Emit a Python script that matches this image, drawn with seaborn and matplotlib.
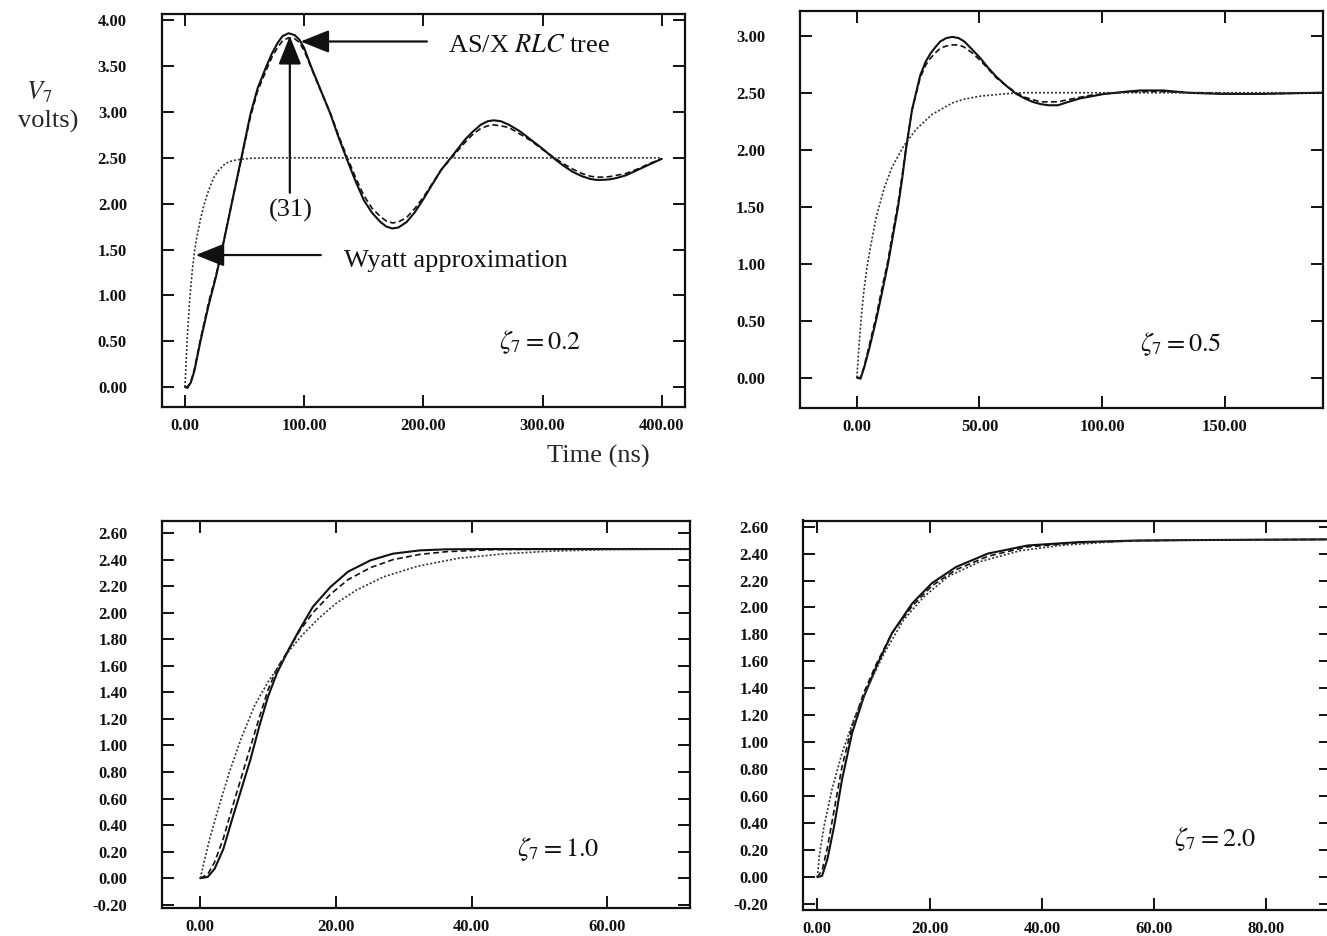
import numpy as np
import pandas as pd
import matplotlib
matplotlib.use('Agg')
import matplotlib.pyplot as plt
import seaborn as sns

# ============================================================================
# DATA
# ============================================================================

# zeta = 0.2, 0..400 ns
t1 = [0, 2, 5, 8, 13, 20, 26, 31, 40, 47, 55, 61, 68, 73, 78, 82, 87, 92, 96, 100,
      106, 112, 122, 129, 136, 143, 150, 157, 164, 169, 174, 179, 186, 193, 200, 207,
      215, 223, 235, 241, 248, 254, 259, 265, 272, 281, 290, 300, 309, 317, 325, 333,
      340, 345, 350, 356, 362, 370, 380, 390, 400]
exact1 = [0, -0.01, 0.05, 0.18, 0.5, 0.9, 1.2, 1.49, 2.05, 2.48, 2.98, 3.26, 3.49, 3.64,
          3.76, 3.83, 3.86, 3.84, 3.79, 3.70, 3.49, 3.30, 2.98, 2.72, 2.48, 2.25, 2.04,
          1.90, 1.80, 1.75, 1.73, 1.74, 1.80, 1.91, 2.05, 2.20, 2.37, 2.50, 2.70, 2.78,
          2.86, 2.90, 2.91, 2.90, 2.86, 2.79, 2.70, 2.60, 2.50, 2.42, 2.35, 2.30, 2.27,
          2.26, 2.26, 2.265, 2.28, 2.31, 2.37, 2.43, 2.49]
eq31_1 = [0, 0.0, 0.06, 0.2, 0.52, 0.93, 1.22, 1.50, 2.05, 2.47, 2.95, 3.23, 3.45, 3.60,
          3.71, 3.78, 3.81, 3.80, 3.76, 3.67, 3.48, 3.29, 2.99, 2.74, 2.51, 2.29, 2.09,
          1.95, 1.86, 1.81, 1.79, 1.80, 1.85, 1.95, 2.07, 2.21, 2.37, 2.49, 2.67, 2.75,
          2.82, 2.85, 2.86, 2.85, 2.83, 2.76, 2.69, 2.59, 2.51, 2.44, 2.38, 2.33, 2.30,
          2.29, 2.29, 2.295, 2.31, 2.33, 2.38, 2.44, 2.49]
tw1 = [0, 1, 2, 4, 6, 8, 10, 13, 16, 20, 24, 28, 34, 40, 47, 55, 70, 400]
wyatt1 = [0, 0.28, 0.55, 0.95, 1.25, 1.48, 1.64, 1.83, 1.99, 2.15, 2.28, 2.36, 2.44,
          2.47, 2.485, 2.495, 2.5, 2.5]

# zeta = 0.5
t2 = [0, 1.5, 3, 5, 7.8, 10, 12.7, 14.5, 16.8, 18.5, 20, 22.5, 25.8, 28, 29.9, 32, 34,
      36.5, 38.9, 41.5, 43.8, 47, 50.5, 53.5, 56.9, 61, 65, 68.5, 71.6, 75, 78.1, 82,
      86.3, 91, 96, 101, 106, 110, 115.7, 120, 125, 130, 135, 141, 148, 156, 165, 177, 190]
exact2 = [0, -0.01, 0.09, 0.25, 0.5, 0.72, 1.0, 1.22, 1.5, 1.75, 2.0, 2.35, 2.65, 2.77,
          2.84, 2.90, 2.95, 2.98, 2.99, 2.98, 2.95, 2.88, 2.80, 2.72, 2.64, 2.56, 2.49,
          2.45, 2.42, 2.40, 2.39, 2.39, 2.42, 2.45, 2.47, 2.49, 2.50, 2.51, 2.52, 2.52,
          2.52, 2.51, 2.50, 2.495, 2.49, 2.49, 2.49, 2.495, 2.50]
eq31_2 = [0, 0.0, 0.1, 0.28, 0.53, 0.76, 1.03, 1.26, 1.53, 1.78, 2.01, 2.35, 2.63, 2.74,
          2.80, 2.85, 2.89, 2.91, 2.92, 2.92, 2.90, 2.85, 2.78, 2.71, 2.63, 2.56, 2.50,
          2.46, 2.44, 2.42, 2.42, 2.42, 2.44, 2.46, 2.48, 2.49, 2.50, 2.505, 2.51, 2.51,
          2.51, 2.505, 2.50, 2.50, 2.495, 2.49, 2.49, 2.495, 2.50]
tw2 = [0, 0.6, 1.3, 2.1, 2.9, 4, 5.4, 7.8, 11.1, 14.4, 19.3, 24.2, 30.7, 38.9, 44, 50.3,
       60, 66.7, 80, 190]
wyatt2 = [0, 0.2, 0.4, 0.6, 0.77, 0.95, 1.13, 1.40, 1.66, 1.85, 2.04, 2.18, 2.31, 2.41,
          2.445, 2.47, 2.49, 2.50, 2.50, 2.50]

# zeta = 1.0
t3 = [0, 1.1, 2.1, 3.4, 4.7, 6.05, 7.4, 8.7, 10, 11.3, 13, 14.6, 16.6, 19.2, 21.8,
      25.1, 28.4, 32.4, 36.3, 43, 50, 72.2]
exact3 = [0, 0.01, 0.07, 0.22, 0.445, 0.67, 0.895, 1.145, 1.37, 1.545, 1.72, 1.87,
          2.045, 2.195, 2.31, 2.395, 2.445, 2.47, 2.478, 2.48, 2.48, 2.48]
eq31_3 = [0, 0.03, 0.12, 0.30, 0.53, 0.76, 0.99, 1.21, 1.42, 1.58, 1.72, 1.86, 2.0,
          2.14, 2.25, 2.34, 2.40, 2.44, 2.46, 2.475, 2.478, 2.48]
tw3 = [0, 1.4, 2.8, 4.3, 6.0, 8.0, 10.0, 12.0, 13.2, 15.0, 17.5, 20, 23, 27, 32, 38,
       45, 52, 60, 72.2]
wyatt3 = [0, 0.3, 0.55, 0.8, 1.05, 1.3, 1.48, 1.63, 1.72, 1.83, 1.96, 2.07, 2.17, 2.27,
          2.35, 2.41, 2.445, 2.465, 2.475, 2.48]

# zeta = 2.0
t4 = [0, 0.85, 1.8, 3, 4.4, 6.2, 8.3, 10.5, 13.3, 16.9, 20.4, 24.7, 30.4, 37.5, 46.7,
      57.4, 68, 91.5]
exact4 = [0, 0.01, 0.135, 0.38, 0.725, 1.07, 1.34, 1.56, 1.81, 2.03, 2.18, 2.30, 2.40,
          2.46, 2.485, 2.497, 2.50, 2.505]
eq31_4 = [0, 0.05, 0.22, 0.5, 0.82, 1.12, 1.37, 1.58, 1.81, 2.01, 2.16, 2.28, 2.38,
          2.45, 2.48, 2.495, 2.50, 2.505]
tw4 = [0, 0.36, 1.2, 2.6, 4.4, 6.5, 9, 11.9, 15.4, 19, 23.3, 29, 36, 43.2, 53.8, 65, 91.5]
wyatt4 = [0, 0.16, 0.38, 0.65, 0.92, 1.17, 1.41, 1.66, 1.91, 2.08, 2.23, 2.34, 2.42,
          2.46, 2.49, 2.50, 2.505]

zeta_labels = ['0.2', '0.5', '1.0', '2.0']

# ============================================================================
# STYLE
# ============================================================================

sns.set_theme(style='ticks')
plt.rcParams['font.family'] = ['Liberation Serif', 'DejaVu Serif']
plt.rcParams['mathtext.fontset'] = 'stix'

W, H = 1327, 936
fig = plt.figure(figsize=(W / 100, H / 100), dpi=100)
fig.patch.set_facecolor('white')


def box(left, top, right, bottom):
    # pixel box -> figure fraction rect
    return [left / W, 1 - bottom / H, (right - left) / W, (bottom - top) / H]


panels = [
    dict(rect=box(161.7, 14, 685, 406.7), xlim=(-19.5, 419.5), ylim=(-0.215, 4.07),
         xt=np.arange(0, 401, 100), yt=np.arange(0, 4.01, 0.5),
         curves=[(t1, exact1), (t1, eq31_1), (tw1, wyatt1)], zpos=(298, 0.49)),
    dict(rect=box(800, 10.7, 1322.7, 408.3), xlim=(-23.2, 190), ylim=(-0.27, 3.22),
         xt=np.arange(0, 151, 50), yt=np.arange(0, 3.01, 0.5),
         curves=[(t2, exact2), (t2, eq31_2), (tw2, wyatt2)], zpos=(132, 0.29)),
    dict(rect=box(162.3, 520.5, 690, 907.7), xlim=(-5.6, 72.2), ylim=(-0.222, 2.695),
         xt=np.arange(0, 61, 20), yt=np.arange(-0.2, 2.61, 0.2),
         curves=[(t3, exact3), (t3, eq31_3), (tw3, wyatt3)], zpos=(52.8, 0.22)),
    dict(rect=box(803.3, 520.5, 1331, 909.5), xlim=(-2.5, 91.5), ylim=(-0.24, 2.645),
         xt=np.arange(0, 81, 20), yt=np.arange(-0.2, 2.61, 0.2),
         curves=[(t4, exact4), (t4, eq31_4), (tw4, wyatt4)], zpos=(70.9, 0.28)),
]

line_styles = [
    dict(linestyle='-', linewidth=1.5, color='#111111'),
    dict(linestyle=(0, (3.5, 2)), linewidth=1.2, color='#111111'),
    dict(linestyle=(0, (1.2, 1.2)), linewidth=1.2, color='#333333'),
]

axes = []
for i, p in enumerate(panels):
    ax = fig.add_axes(p['rect'])
    ax.set_facecolor('white')
    for (tx, vy), ls in zip(p['curves'], line_styles):
        sns.lineplot(x=tx, y=vy, ax=ax, errorbar=None, **ls)
    ax.set_xlim(*p['xlim'])
    ax.set_ylim(*p['ylim'])
    ax.set_xticks(p['xt'])
    ax.set_yticks(p['yt'])
    ax.set_xticklabels([f'{v:.2f}' for v in p['xt']])
    ax.set_yticklabels([f'{v:.2f}' for v in p['yt']])
    ax.tick_params(direction='in', length=8.5, width=1.4, top=True, right=True,
                   colors='#111111', labelsize=12)
    ax.tick_params(axis='y', pad=25)
    ax.tick_params(axis='x', pad=8)
    for lab in ax.get_xticklabels() + ax.get_yticklabels():
        lab.set_fontweight('bold')
    for sp in ax.spines.values():
        sp.set_linewidth(1.6)
        sp.set_color('#111111')
    ax.set_xlabel('')
    ax.set_ylabel('')
    ax.text(p['zpos'][0], p['zpos'][1], r'$\zeta_7 = ' + zeta_labels[i] + '$',
            fontsize=19, ha='center', va='center', color='#111111')
    axes.append(ax)

# ============================================================================
# ANNOTATIONS (first panel)
# ============================================================================

ax = axes[0]
arrow = dict(arrowstyle='-|>,head_length=0.8,head_width=0.32', color='#111111',
             lw=1.6, mutation_scale=22, shrinkA=0, shrinkB=0)
ax.annotate('', xy=(97, 3.77), xytext=(203, 3.77), arrowprops=arrow)
ax.annotate('', xy=(88, 3.83), xytext=(88, 2.12), arrowprops=arrow)
ax.annotate('', xy=(9, 1.44), xytext=(114, 1.44), arrowprops=arrow)
ax.text(221, 3.72, r'AS/X $\mathit{RLC}$ tree', fontsize=19, ha='left', va='center',
        color='#111111')
ax.text(88.6, 1.93, '(31)', fontsize=19, ha='center', va='center', color='#111111')
ax.text(133.5, 1.37, 'Wyatt approximation', fontsize=19, ha='left', va='center',
        color='#111111')

fig.text(39 / W, 1 - 92 / H, r'$V_7$', fontsize=19, ha='center', va='center')
fig.text(48 / W, 1 - 121 / H, 'volts)', fontsize=19, ha='center', va='center')
fig.text(598 / W, 1 - 456 / H, 'Time (ns)', fontsize=19, ha='center', va='center')

plt.savefig('out.png', dpi=100, facecolor='white')
plt.close()
